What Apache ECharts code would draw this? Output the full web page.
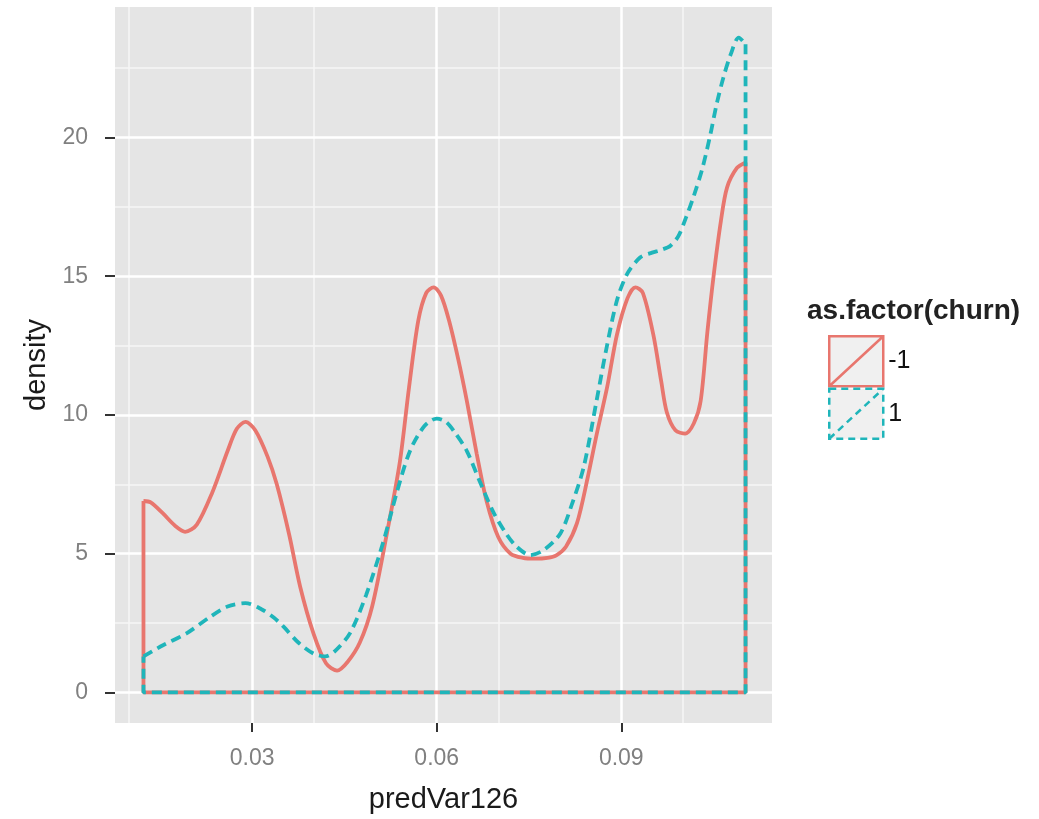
<!DOCTYPE html>
<html>
<head>
<meta charset="utf-8">
<script src="https://cdn.jsdelivr.net/npm/echarts@6/dist/echarts.min.js"></script>
<style>
  html, body { margin: 0; padding: 0; background: #ffffff; }
  #chart { width: 1039px; height: 819px; }
</style>
</head>
<body>
<div id="chart"></div>
<script>
// ---- data ----
const xMajorTicks = [0.03, 0.06, 0.09];
const xMinorGrid = [0.015, 0.045, 0.075, 0.105];
const yMajorTicks = [0, 5, 10, 15, 20];
const yMinorGrid = [2.5, 7.5, 12.5, 17.5, 22.5];

const legendTitle = 'as.factor(churn)';
const groupNames = ['-1', '1'];

// density curve for churn = -1 (solid, red)
const densityNeg1 = [
  [0.01233, 6.90], [0.0135, 6.85], [0.0155, 6.45], [0.0175, 6.00], [0.0191, 5.79],
  [0.0210, 6.05], [0.0235, 7.20], [0.0260, 8.70], [0.0275, 9.50], [0.0289, 9.75],
  [0.0305, 9.45], [0.0325, 8.50], [0.0340, 7.50], [0.0360, 5.70], [0.0378, 3.81],
  [0.0400, 2.10], [0.0420, 1.05], [0.0438, 0.79], [0.0455, 1.10], [0.0475, 1.80],
  [0.0495, 3.10], [0.0519, 5.73], [0.0540, 8.30], [0.0555, 11.0], [0.0570, 13.4],
  [0.0583, 14.4], [0.0595, 14.6], [0.0607, 14.3], [0.0620, 13.4], [0.0635, 12.0],
  [0.0649, 10.5], [0.0665, 8.60], [0.0681, 6.90], [0.0700, 5.60], [0.0720, 5.00],
  [0.0740, 4.85], [0.0760, 4.82], [0.0780, 4.85], [0.0795, 4.95], [0.0810, 5.25],
  [0.0828, 6.10], [0.0845, 7.70], [0.0860, 9.30], [0.0877, 11.0], [0.0893, 12.9],
  [0.0910, 14.2], [0.0923, 14.6], [0.0935, 14.4], [0.0952, 12.9], [0.0965, 11.2],
  [0.0974, 10.1], [0.0988, 9.45], [0.1004, 9.33], [0.1018, 9.70], [0.1029, 10.5],
  [0.1040, 13.0], [0.1050, 15.0], [0.1062, 17.0], [0.1072, 18.2], [0.1088, 18.9],
  [0.1102, 19.1]
];

// density curve for churn = 1 (dashed, teal)
const densityPos1 = [
  [0.01233, 1.30], [0.0155, 1.70], [0.0194, 2.14], [0.0230, 2.70], [0.0260, 3.10],
  [0.0289, 3.22], [0.0315, 3.00], [0.0335, 2.70], [0.0351, 2.37], [0.0375, 1.80],
  [0.0400, 1.40], [0.0419, 1.30], [0.0435, 1.50], [0.0459, 2.14], [0.0485, 3.50],
  [0.0514, 5.49], [0.0535, 7.20], [0.0557, 8.73], [0.0580, 9.60], [0.0600, 9.87],
  [0.0615, 9.75], [0.0630, 9.35], [0.0649, 8.70], [0.0670, 7.60], [0.0692, 6.50],
  [0.0712, 5.75], [0.0730, 5.25], [0.0752, 4.95], [0.0775, 5.15], [0.0801, 5.73],
  [0.0820, 6.80], [0.0839, 8.13], [0.0860, 10.53], [0.0875, 12.3], [0.0893, 14.13],
  [0.0910, 15.1], [0.0931, 15.68], [0.0950, 15.85], [0.0965, 15.95], [0.0980, 16.10],
  [0.0993, 16.45], [0.1005, 17.1], [0.1018, 17.9], [0.1032, 18.9], [0.1045, 20.12],
  [0.1055, 21.2], [0.1066, 22.16], [0.1078, 23.0], [0.1091, 23.6], [0.1102, 23.36]
];

// ---- styling ----
const RED = '#E8766E';
const TEAL = '#1FB5BA';
const FONT = 'Liberation Sans, Arial, Helvetica, sans-serif';

// closing outline of a density polygon (down the right side, along 0, up the left side)
function outline(curve) {
  const first = curve[0], last = curve[curve.length - 1];
  return [[last[0], last[1]], [last[0], 0], [first[0], 0], [first[0], first[1]]];
}

const chart = echarts.init(document.getElementById('chart'), null, { renderer: 'canvas' });

const minorStyle = { color: '#F6F6F6', width: 1.5, type: 'solid' };
const majorStyle = { color: '#FFFFFF', width: 2.5, type: 'solid' };

const gridLineSeries = {
  name: 'gridlines',
  type: 'line',
  data: [],
  silent: true,
  z: 1,
  markLine: {
    z: 1,
    silent: true,
    symbol: ['none', 'none'],
    label: { show: false },
    animation: false,
    data: [
      ...xMinorGrid.map(v => ({ xAxis: v, lineStyle: minorStyle })),
      ...yMinorGrid.map(v => ({ yAxis: v, lineStyle: minorStyle })),
      ...xMajorTicks.map(v => ({ xAxis: v, lineStyle: majorStyle })),
      ...yMajorTicks.map(v => ({ yAxis: v, lineStyle: majorStyle }))
    ]
  }
};

function curveSeries(name, data, color, dashed, z) {
  const ls = { color: color, width: 3.8, type: dashed ? [10, 6] : 'solid' };
  return [
    {
      name: name, type: 'line', data: data, z: z,
      smooth: 0.3, showSymbol: false, symbol: 'none',
      lineStyle: ls, itemStyle: { color: color }
    },
    {
      name: name, type: 'line', data: outline(data), z: z,
      smooth: false, showSymbol: false, symbol: 'none',
      lineStyle: ls, itemStyle: { color: color }
    }
  ];
}

const keyIcon = 'path://M0,0L54,0L54,50L0,50ZM0,50L54,0';

const option = {
  animation: false,
  backgroundColor: '#ffffff',
  grid: {
    left: 115, right: 267, top: 7, bottom: 96,
    show: true, backgroundColor: '#E5E5E5', borderWidth: 0
  },
  xAxis: {
    type: 'value',
    min: 0.0077, max: 0.1145,
    name: 'predVar126',
    nameLocation: 'middle',
    nameGap: 62,
    nameTextStyle: { fontFamily: FONT, fontSize: 29, color: '#1a1a1a' },
    axisLine: { show: false, onZero: false },
    splitLine: { show: false },
    axisTick: { show: true, length: 9, customValues: xMajorTicks, lineStyle: { color: '#333333', width: 2 } },
    axisLabel: {
      customValues: xMajorTicks, margin: 24,
      fontFamily: FONT, fontSize: 23, color: '#808080',
      formatter: v => v.toFixed(2)
    }
  },
  yAxis: {
    type: 'value',
    min: -1.1, max: 24.7,
    name: 'density',
    nameLocation: 'middle',
    nameGap: 60,
    nameTextStyle: { fontFamily: FONT, fontSize: 29, color: '#1a1a1a' },
    axisLine: { show: false, onZero: false },
    splitLine: { show: false },
    axisTick: { show: true, length: 10, customValues: yMajorTicks, lineStyle: { color: '#333333', width: 2 } },
    axisLabel: {
      customValues: yMajorTicks, margin: 27,
      fontFamily: FONT, fontSize: 23, color: '#808080',
      formatter: v => String(Math.round(v))
    }
  },
  legend: {
    orient: 'vertical',
    left: 823, top: 330,
    itemWidth: 54, itemHeight: 50, itemGap: 0,
    selectedMode: false,
    textStyle: { fontFamily: FONT, fontSize: 25, color: '#111111' },
    data: [
      { name: groupNames[0], icon: keyIcon,
        itemStyle: { color: '#F0F0F0', borderColor: RED, borderWidth: 2.5, borderType: 'solid' } },
      { name: groupNames[1], icon: keyIcon,
        itemStyle: { color: '#F0F0F0', borderColor: TEAL, borderWidth: 2.5, borderType: [7, 5] } }
    ]
  },
  graphic: [
    {
      type: 'text', left: 807, top: 297,
      style: { text: legendTitle, font: 'bold 28px ' + FONT, fill: '#222222' }
    }
  ],
  series: [
    gridLineSeries,
    ...curveSeries(groupNames[0], densityNeg1, RED, false, 3),
    ...curveSeries(groupNames[1], densityPos1, TEAL, true, 4)
  ]
};

chart.setOption(option);
</script>
</body>
</html>
